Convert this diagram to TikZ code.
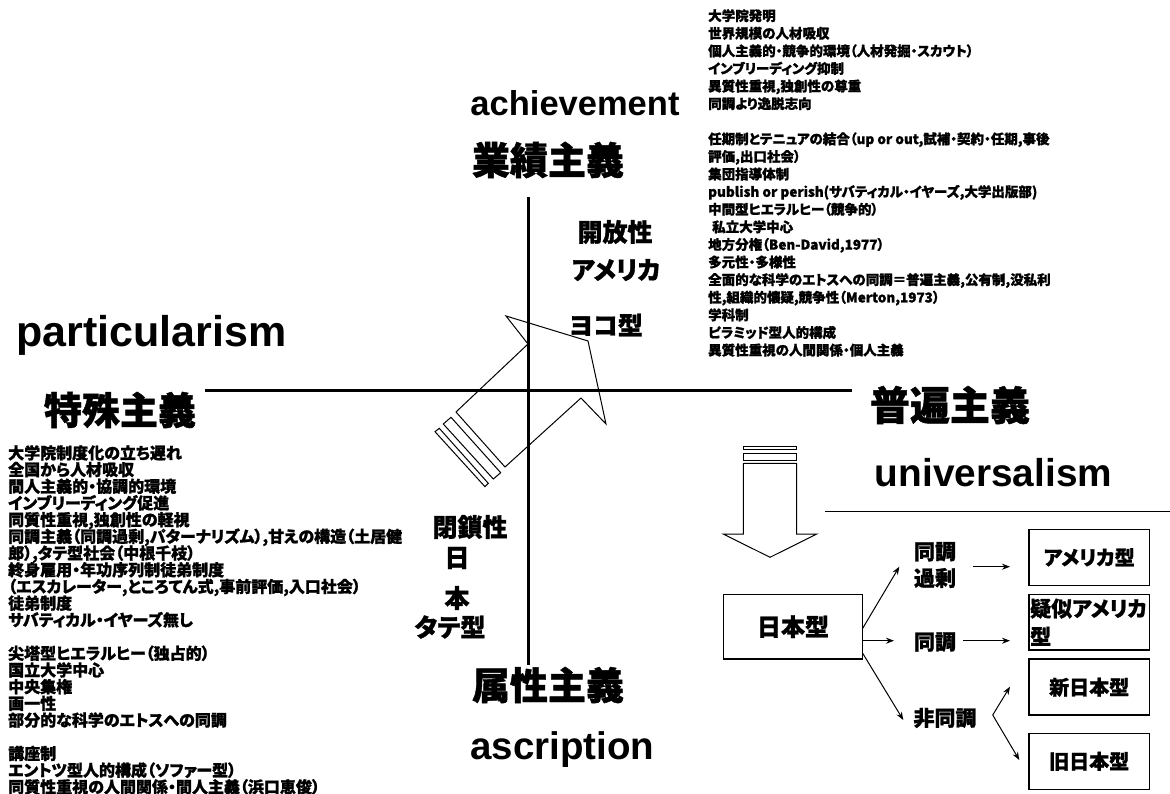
\documentclass[tikz,border=0pt]{standalone}
\usepackage{fontspec}
\setmainfont{Liberation Sans}
\newfontfamily\jp{Noto Sans CJK JP}[RawFeature={+palt}, BoldFeatures={FakeBold=1.2}]
\usetikzlibrary{arrows.meta}
\setlength{\lineskiplimit}{-50pt}
\tikzset{
  enlab/.style={inner sep=0pt, font=\bfseries\fontsize{36}{36}\selectfont},
  jplab/.style={inner sep=0pt, font=\jp\bfseries\fontsize{38}{38}\selectfont},
  midlab/.style={inner sep=0pt, font=\jp\bfseries\fontsize{25}{25}\selectfont},
  smlab/.style={inner sep=0pt, align=center, font=\jp\bfseries\fontsize{21}{26.6}\selectfont},
  box/.style={draw, line width=1.5pt, inner sep=0pt, minimum width=120.3pt, minimum height=56pt, font=\jp\bfseries\fontsize{20}{26}\selectfont},
  axisline/.style={line width=3pt},
  blk/.style={line width=1pt, line join=miter},
  arr/.style={line width=1pt, -{Stealth[length=8pt,width=6pt]}},
  txtblk/.style={inner sep=0pt, anchor=north west, align=left}
}
\begin{document}
\begin{tikzpicture}[x=1pt,y=-1pt]
\useasboundingbox (0,0) rectangle (1170,794);
% axes
\coordinate (vt) at (528,197);
\coordinate (vb) at (528,665);
\coordinate (hl) at (205,390);
\coordinate (hr) at (852,390);
\draw[axisline] (vt) -- (vb);
\draw[axisline] (hl) -- (hr);
% big labels
\node[enlab, font=\bfseries\fontsize{34.5}{34.5}\selectfont] (ach) at (575,103) {achievement};
\node[jplab] (gyo) at (548,160) {業績主義};
\node[enlab, font=\bfseries\fontsize{43}{43}\selectfont] (par) at (151.5,335) {particularism};
\node[jplab] (tok) at (120,410) {特殊主義};
\node[jplab, font=\jp\bfseries\fontsize{40}{40}\selectfont] (fuh) at (950,405) {普遍主義};
\node[enlab, font=\bfseries\fontsize{38.8}{38.8}\selectfont] (uni) at (993.5,473) {universalism};
\node[jplab] (zok) at (548,685) {属性主義};
\node[enlab, font=\bfseries\fontsize{38.5}{38.5}\selectfont] (asc) at (562.5,750) {ascription};
% mid labels
\node[midlab] (kai) at (615,232) {開放性};
\node[midlab] (ame) at (616,270) {アメリカ};
\node[midlab] (yok) at (606,325) {ヨコ型};
\node[midlab] (hei) at (470,527) {閉鎖性};
\node[midlab] (nichi) at (457,558) {日};
\node[midlab] (hon) at (457,598) {本};
\node[midlab] (tat) at (450,627) {タテ型};
% diagonal block arrow
\draw[blk] (528,344) -- (456,412) -- (505,467) -- (581,398) -- (606,424) -- (588,341) -- (506,316) -- cycle;
\draw[blk] (443.3,424) -- (451,417.3) -- (500.7,472.7) -- (493.3,479) -- cycle;
\draw[blk] (435,431.7) -- (439.3,428.3) -- (488.3,483.3) -- (485,486.7) -- cycle;
% down block arrow
\draw[blk] (743.3,446) rectangle (796.7,449.3);
\draw[blk] (743.3,453.3) rectangle (796.7,460);
\draw[blk] (743.3,463.3) -- (796.7,463.3) -- (796.7,534) -- (816.7,534) -- (770,557.3) -- (723.3,534) -- (743.3,534) -- cycle;
% line under universalism
\coordinate (ul) at (825,511);
\coordinate (ur) at (1170,511);
\draw[line width=1pt] (ul) -- (ur);
% boxes
\node[box, minimum width=139.4pt, minimum height=64.7pt, font=\jp\bfseries\fontsize{24}{24}\selectfont] (nihon) at (793,626.7) {日本型};
\node[box] (am) at (1089.2,557.3) {アメリカ型};
\node[box, minimum height=55.7pt, text width=118pt, align=left, font=\jp\bfseries\fontsize{21}{28}\selectfont] (giji) at (1089.2,622.2) {疑似アメリカ\\型};
\node[box] (shin) at (1089.2,687.2) {新日本型};
\node[box] (kyu) at (1089.2,761.3) {旧日本型};
% small labels
\node[smlab] (dk) at (935,565) {同調\\過剰};
\node[smlab] (dc) at (935,642) {同調};
\node[smlab] (hd) at (945,718) {非同調};
% arrows
\coordinate (n1) at (862.7,628.3);
\coordinate (n2) at (862.7,640.7);
\coordinate (n3) at (862.7,653.3);
\coordinate (t1) at (899.3,566.7);
\coordinate (t2) at (894,640.7);
\coordinate (t3) at (903.3,720);
\draw[arr] (n1) -- (t1);
\draw[arr] (n2) -- (t2);
\draw[arr] (n3) -- (t3);
\coordinate (dks) at (973.3,566.7);
\coordinate (dke) at (1010,566.7);
\coordinate (dcs) at (963.3,640.7);
\coordinate (dce) at (1010,640.7);
\draw[arr] (dks) -- (dke);
\draw[arr] (dcs) -- (dce);
\coordinate (fk) at (992.7,715);
\coordinate (fk1) at (1010,686.7);
\coordinate (fk2) at (1019.3,760);
\draw[arr] (fk) -- (fk1);
\draw[arr] (fk) -- (fk2);
% text blocks
\node[txtblk, font=\jp\bfseries\fontsize{13.5}{17.6}\selectfont] (tr) at (708,9) {大学院発明\\
世界規模の人材吸収\\
個人主義的・競争的環境（人材発掘・スカウト）\\
インブリーディング抑制\\
異質性重視,独創性の尊重\\
同調より逸脱志向\\[17.6pt]
任期制とテニュアの結合（up or out,試補・契約・任期,事後\\
評価,出口社会）\\
集団指導体制\\
publish or perish(サバティカル・イヤーズ,大学出版部)\\
中間型ヒエラルヒー（競争的）\\
\hspace{4pt}私立大学中心\\
地方分権（Ben-David,1977）\\
多元性・多様性\\
全面的な科学のエトスへの同調＝普遍主義,公有制,没私利\\
性,組織的懐疑,競争性（Merton,1973）\\
学科制\\
ピラミッド型人的構成\\
異質性重視の人間関係・個人主義};
\node[txtblk, font=\jp\bfseries\fontsize{16}{16.7}\selectfont] (bl) at (8,445) {大学院制度化の立ち遅れ\\
全国から人材吸収\\
間人主義的・協調的環境\\
インブリーディング促進\\
同質性重視,独創性の軽視\\
同調主義（同調過剰,パターナリズム）,甘えの構造（土居健\\
郎）,タテ型社会（中根千枝）\\
終身雇用・年功序列制徒弟制度\\
（エスカレーター,ところてん式,事前評価,入口社会）\\
徒弟制度\\
サバティカル・イヤーズ無し\\[16.7pt]
尖塔型ヒエラルヒー（独占的）\\
国立大学中心\\
中央集権\\
画一性\\
部分的な科学のエトスへの同調\\[16.7pt]
講座制\\
エントツ型人的構成（ソファー型）\\
同質性重視の人間関係・間人主義（浜口恵俊）};
\end{tikzpicture}
\end{document}
